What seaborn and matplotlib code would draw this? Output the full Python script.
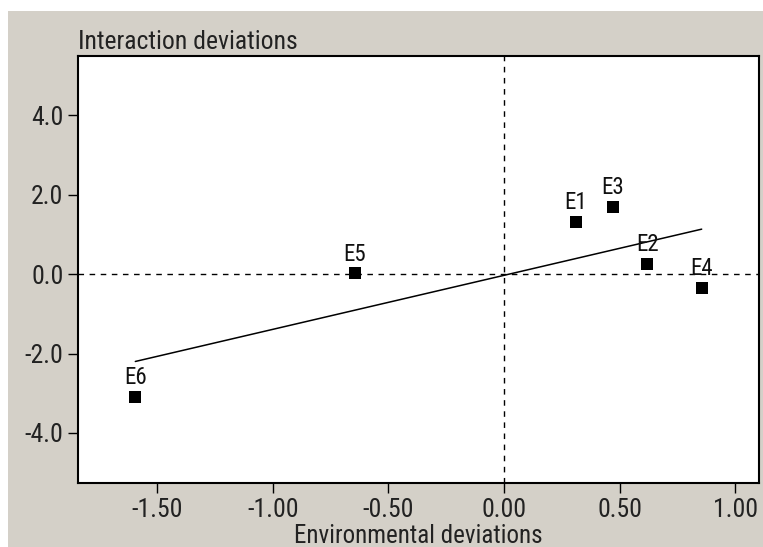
import numpy as np
import pandas as pd
import matplotlib
matplotlib.use("Agg")
import matplotlib.pyplot as plt
from matplotlib.patches import Rectangle
from matplotlib import font_manager
import seaborn as sns

# Data
labels = ["E1", "E2", "E3", "E4", "E5", "E6"]
env_dev = [0.31, 0.62, 0.47, 0.855, -0.645, -1.595]
int_dev = [1.31, 0.25, 1.69, -0.35, 0.02, -3.09]
x_ticks = [-1.5, -1.0, -0.5, 0.0, 0.5, 1.0]
y_ticks = [-4.0, -2.0, 0.0, 2.0, 4.0]

df = pd.DataFrame({"env": env_dev, "inter": int_dev, "label": labels})

sns.set_style("white")

# try to find a condensed / narrow sans font
cond = None
prefs = ["Liberation Sans Narrow", "Roboto Condensed", "Open Sans Condensed", "DejaVu Sans"]
cands = []
for f in font_manager.fontManager.ttflist:
    nm = f.name
    fn = f.fname.lower()
    is_cond = ("narrow" in nm.lower() or "condensed" in nm.lower() or "condensed" in fn
               or "narrow" in fn or str(f.stretch) in ("condensed", "semi-condensed", "extra-condensed"))
    if is_cond and f.weight in (400, "normal", "regular") and f.style == "normal":
        cands.append(f)
def rank(f):
    for i, p in enumerate(prefs):
        if f.name == p:
            return i
    return len(prefs)
if cands:
    cands.sort(key=rank)
    cond = cands[0].fname

avail = {f.name for f in font_manager.fontManager.ttflist}
fam = [f for f in ["Liberation Sans", "DejaVu Sans"] if f in avail]
plt.rcParams["font.family"] = fam

def fp(size):
    if cond:
        return font_manager.FontProperties(fname=cond, size=size)
    return font_manager.FontProperties(family=fam, size=size * 0.85)

W, H = 763, 547
fig = plt.figure(figsize=(W / 100, H / 100), dpi=100)
fig.patch.set_facecolor("white")
fig.patches.append(Rectangle((8 / W, 0), 1, (H - 11) / H, transform=fig.transFigure,
                             facecolor="#D4D0C8", edgecolor="none", zorder=-10))

ax = fig.add_axes([78 / W, (H - 483) / H, (759 - 78) / W, (483 - 56) / H])
ax.set_facecolor("white")

ax.axhline(0, color="black", lw=1, ls=(0, (4, 4)), zorder=1)
ax.axvline(0, color="black", lw=1, ls=(0, (4, 4)), zorder=1)

sns.regplot(data=df, x="env", y="inter", ax=ax, ci=None, scatter=False, truncate=True,
            line_kws={"color": "black", "lw": 1.1})
sns.scatterplot(data=df, x="env", y="inter", ax=ax, marker="s", s=80, color="black",
                edgecolor="black", linewidth=0, zorder=3)

for _, r in df.iterrows():
    ax.annotate(r["label"], (r["env"], r["inter"]), xytext=(0, 5.5), textcoords="offset points",
                ha="center", va="bottom", fontproperties=fp(16.5), color="#111111")

ax.set_xlim(-1.843, 1.103)
ax.set_ylim(-5.26, 5.49)
ax.set_xticks(x_ticks)
ax.set_xticklabels([f"{v:.2f}" for v in x_ticks], fontproperties=fp(18.5), color="#222222")
ax.set_yticks(y_ticks)
ax.set_yticklabels([f"{v:.1f}" for v in y_ticks], fontproperties=fp(18.5), color="#222222")
ax.tick_params(direction="out", length=7.5, width=1, color="black", pad=3,
               bottom=True, left=True)

for s in ax.spines.values():
    s.set_visible(True)
    s.set_color("black")
    s.set_linewidth(1.5)

ax.set_xlabel("Environmental deviations", fontproperties=fp(18), color="#222222", labelpad=1.5)
ax.set_ylabel("")
ax.text(0, 1.004, "Interaction deviations", transform=ax.transAxes, ha="left", va="bottom",
        fontproperties=fp(18.5), color="#222222")

fig.savefig("out.png", dpi=100)
